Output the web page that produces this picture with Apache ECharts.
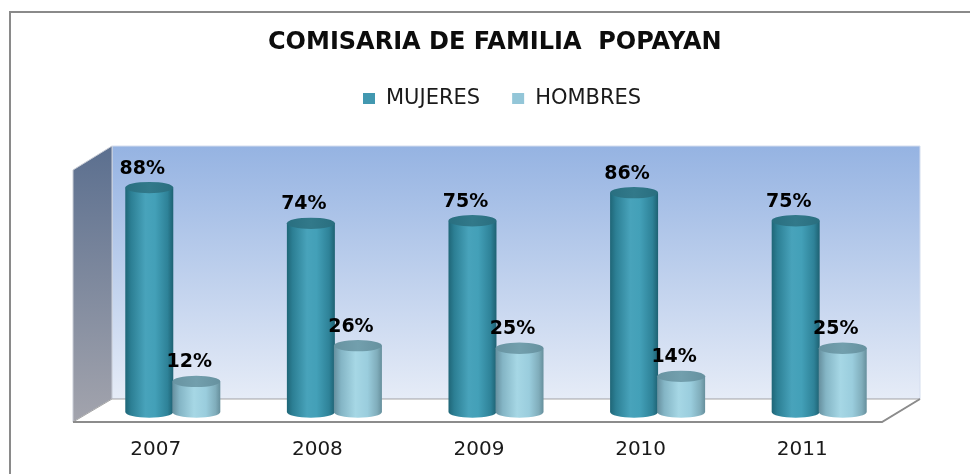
<!DOCTYPE html>
<html>
<head>
<meta charset="utf-8">
<script src="https://cdn.jsdelivr.net/npm/echarts@6/dist/echarts.min.js"></script>
<style>
  html, body { margin: 0; padding: 0; background: #fff; }
  #chart { width: 970px; height: 474px; }
</style>
</head>
<body>
<div id="chart"></div>
<script>
// ---- data ----
const categories = ['2007', '2008', '2009', '2010', '2011'];
const mujeres = [88, 74, 75, 86, 75];
const hombres = [12, 26, 25, 14, 25];
const seriesNames = ['MUJERES', 'HOMBRES'];
const titleText = 'COMISARIA DE FAMILIA  POPAYAN';

// ---- layout ----
const W = 970, H = 474;
const G = { left: 92, right: 70, top: 157, bottom: 62 };
const depthX = 20;               // back wall offset
const backL = G.left + depthX, backR = W - G.right + depthX;
const backTop = 146, backBot = 399;
const frontL = 73, frontR = 882, frontY = 422, sideTop = 170;

const chart = echarts.init(document.getElementById('chart'), null, { renderer: 'canvas' });

function makeRender(side, c) {
  return function (params, api) {
    const idx = api.value(0), v = api.value(1);
    const base = api.coord([idx, 0]);
    const top = api.coord([idx, v]);
    const band = api.size([1, 0])[0];
    const w = band * 0.297;
    const cx = base[0] + side * w * 0.49;
    const rx = w / 2, ry = w * 0.118;
    const x0 = cx - rx, x1 = cx + rx;
    const ty = top[1], by = base[1];
    const body = 'M' + x0 + ' ' + ty + ' L' + x0 + ' ' + by +
      ' A' + rx + ' ' + ry + ' 0 0 0 ' + x1 + ' ' + by +
      ' L' + x1 + ' ' + ty + ' Z';
    const cap = 'M' + x0 + ' ' + ty +
      ' A' + rx + ' ' + ry + ' 0 0 0 ' + x1 + ' ' + ty +
      ' A' + rx + ' ' + ry + ' 0 0 0 ' + x0 + ' ' + ty + ' Z';
    return {
      type: 'group',
      children: [
        {
          type: 'path',
          shape: { pathData: body },
          style: {
            fill: { type: 'linear', x: 0, y: 0, x2: 1, y2: 0, colorStops: c.body }
          }
        },
        {
          type: 'path',
          shape: { pathData: cap },
          style: {
            fill: { type: 'linear', x: 0, y: 0, x2: 1, y2: 0, colorStops: c.cap }
          }
        },
        {
          type: 'text',
          style: {
            text: v + '%',
            x: cx - 7, y: ty - 19,
            align: 'center', verticalAlign: 'middle',
            fontSize: 19, fontWeight: 'bold', fontFamily: 'DejaVu Sans',
            fill: '#000'
          }
        }
      ]
    };
  };
}

const colM = {
  body: [
    { offset: 0, color: '#1F6677' }, { offset: 0.12, color: '#2C7F94' },
    { offset: 0.42, color: '#48A3BB' }, { offset: 0.62, color: '#43A0B8' },
    { offset: 0.88, color: '#2E8298' }, { offset: 1, color: '#1E6172' }
  ],
  cap: [{ offset: 0, color: '#296F80' }, { offset: 0.5, color: '#32798A' }, { offset: 1, color: '#296E7F' }]
};
const colH = {
  body: [
    { offset: 0, color: '#668F9E' }, { offset: 0.15, color: '#84B5C5' },
    { offset: 0.45, color: '#A6D7E5' }, { offset: 0.7, color: '#9ACDDD' },
    { offset: 0.9, color: '#80ADBB' }, { offset: 1, color: '#668F9C' }
  ],
  cap: [{ offset: 0, color: '#6893A1' }, { offset: 0.5, color: '#729FAD' }, { offset: 1, color: '#66919F' }]
};

const option = {
  backgroundColor: '#ffffff',
  animation: false,
  title: {
    text: titleText,
    left: 263,
    top: 26,
    textStyle: { fontFamily: 'DejaVu Sans', fontWeight: 'bold', fontSize: 24, color: '#0d0d0d' }
  },
  legend: {
    top: 83,
    left: 358,
    itemWidth: 12,
    itemHeight: 11,
    itemGap: 32,
    icon: 'rect',
    data: seriesNames,
    textStyle: { fontFamily: 'DejaVu Sans', fontSize: 21, color: '#1a1a1a', padding: [0, 0, 0, 6] }
  },
  grid: { left: G.left, right: G.right, top: G.top, bottom: G.bottom },
  xAxis: {
    type: 'category',
    data: categories,
    axisLine: { show: false },
    axisTick: { show: false },
    splitLine: { show: false },
    axisLabel: {
      margin: 28,
      fontFamily: 'DejaVu Sans',
      fontSize: 20,
      color: '#1a1a1a',
      padding: [0, 34, 0, 0]
    }
  },
  yAxis: {
    type: 'value',
    min: 0,
    max: 100,
    show: false
  },
  graphic: [
    {
      type: 'rect', z: 0,
      shape: { x: 10, y: 12, width: 1000, height: 500 },
      style: { fill: 'none', stroke: '#8a8a8a', lineWidth: 2 }
    },
    {
      type: 'rect', z: 1,
      shape: { x: backL, y: backTop, width: backR - backL, height: backBot - backTop },
      style: {
        fill: { type: 'linear', x: 0, y: 0, x2: 0, y2: 1,
          colorStops: [{ offset: 0, color: '#95B3E2' }, { offset: 1, color: '#E6ECF7' }] },
        stroke: '#D4DDEE', lineWidth: 1
      }
    },
    {
      type: 'polygon', z: 1,
      shape: { points: [[frontL, sideTop], [backL, backTop], [backL, backBot], [frontL, frontY]] },
      style: {
        fill: { type: 'linear', x: 0, y: 0, x2: 0, y2: 1,
          colorStops: [{ offset: 0, color: '#5B6F8F' }, { offset: 1, color: '#A3A4AD' }] },
        stroke: '#C9CDD6', lineWidth: 1
      }
    },
    {
      type: 'polygon', z: 1,
      shape: { points: [[frontL, frontY], [backL, backBot], [backR, backBot], [frontR, frontY]] },
      style: { fill: '#ffffff', stroke: '#A6A6A6', lineWidth: 1 }
    },
    {
      type: 'polyline', z: 1,
      shape: { points: [[frontL, frontY], [frontR, frontY], [backR, backBot]] },
      style: { fill: 'none', stroke: '#8C8C8C', lineWidth: 2 }
    }
  ],
  series: [
    {
      name: seriesNames[0],
      type: 'custom',
      itemStyle: { color: '#4298B0' },
      encode: { x: 0, y: 1 },
      renderItem: makeRender(-1, colM),
      data: categories.map((c, i) => [i, mujeres[i]])
    },
    {
      name: seriesNames[1],
      type: 'custom',
      itemStyle: { color: '#93C6D8' },
      encode: { x: 0, y: 1 },
      renderItem: makeRender(1, colH),
      data: categories.map((c, i) => [i, hombres[i]])
    }
  ]
};
chart.setOption(option);
</script>
</body>
</html>
